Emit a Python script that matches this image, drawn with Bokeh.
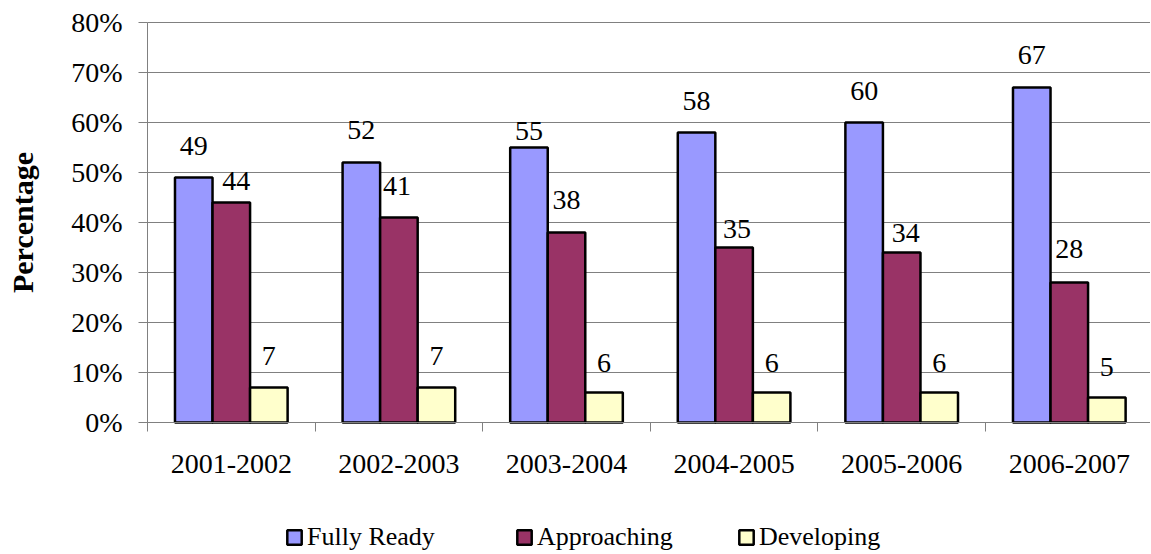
import numpy as np
from bokeh.plotting import figure
from bokeh.models import (ColumnDataSource, Range1d, FixedTicker, PrintfTickFormatter,
                          Legend, LegendItem)
from bokeh.core.properties import value
from bokeh.embed import file_html
from bokeh.resources import INLINE

# ---------------- data ----------------
categories = ["2001-2002", "2002-2003", "2003-2004", "2004-2005", "2005-2006", "2006-2007"]
series_names = ["Fully Ready", "Approaching", "Developing"]
fully_ready = [49, 52, 55, 58, 60, 67]
approaching = [44, 41, 38, 35, 34, 28]
developing = [7, 7, 6, 6, 6, 5]
y_ticks = [0, 10, 20, 30, 40, 50, 60, 70, 80]
y_title = "Percentage"

# ---------------- styling / geometry ----------------
colors = ["#9999FF", "#993366", "#FFFFCC"]
FONT = "Liberation Serif"
GRID = "#808080"
BAR_W = 0.224
FRAME_W, FRAME_H = 1150, 552
PX_PER_CAT, PX_PER_UNIT = 167.6, 5.0
LEFT_PAD, TOP_PAD = 147, 22          # room for the y axis / top margin (px)
Y_MAX = y_ticks[-1]

x_start = -LEFT_PAD / PX_PER_CAT
x_end = x_start + FRAME_W / PX_PER_CAT
y_end = Y_MAX + TOP_PAD / PX_PER_UNIT
y_start = y_end - FRAME_H / PX_PER_UNIT

# pixel lift of each value label above its bar, and small horizontal nudges
label_gap = [[32, 33, 17, 32, 32, 33],
             [22, 32, 33, 19, 20, 34],
             [32, 32, 30, 30, 30, 31]]
label_dx = [[0, 0, 0, 0, 0, 0],
            [5, -2, 0, 3, 4, 0],
            [0, 0, 0, 0, 0, 0]]

n = len(categories)
centers = np.arange(n) + 0.5
offsets = [-BAR_W, 0.0, BAR_W]

# one frame covering the whole canvas; axes are pinned inside it
p = figure(frame_width=FRAME_W, frame_height=FRAME_H, output_backend="svg",
           toolbar_location=None,
           x_range=Range1d(x_start, x_end), y_range=Range1d(y_start, y_end),
           min_border_left=0, min_border_right=0, min_border_top=0, min_border_bottom=0)
p.outline_line_color = None
p.background_fill_color = "white"
p.border_fill_color = "white"
p.xgrid.visible = False
p.ygrid.visible = False

# horizontal gridlines, only over the plotting area
p.segment(x0=0, x1=x_end, y0=y_ticks, y1=y_ticks, line_color=GRID, line_width=1)

renderers = []
for vals, name, color, off, gaps, dxs in zip([fully_ready, approaching, developing],
                                             series_names, colors, offsets, label_gap, label_dx):
    src = ColumnDataSource(dict(x=centers + off, top=vals,
                                lbl=[str(v) for v in vals],
                                yo=[-g for g in gaps], xo=dxs))
    r = p.vbar(x="x", top="top", bottom=0, width=BAR_W, source=src,
               fill_color=color, line_color="black", line_width=2.5)
    renderers.append(r)
    p.text(x="x", y="top", text="lbl", source=src, x_offset="xo", y_offset="yo",
           text_align="center", text_baseline="alphabetic",
           text_font=value(FONT), text_font_size="28px", text_color="black")

# x axis at y = 0: labels at category centres, ticks at boundaries
p.xaxis.fixed_location = 0
p.xaxis.bounds = (0, x_end)
p.xaxis.ticker = FixedTicker(ticks=list(centers), minor_ticks=list(range(n + 1)))
p.xaxis.major_label_overrides = {float(c): cat for c, cat in zip(centers, categories)}
p.xaxis.major_tick_line_color = None
p.xaxis.major_tick_out = 0
p.xaxis.major_tick_in = 0
p.xaxis.minor_tick_out = 9
p.xaxis.minor_tick_in = 0
p.xaxis.minor_tick_line_color = GRID
p.xaxis.axis_line_color = GRID
p.xaxis.major_label_standoff = 23
p.xaxis.major_label_text_font = FONT
p.xaxis.major_label_text_font_size = "28px"
p.xaxis.major_label_text_color = "black"

# y axis at x = 0
p.yaxis.fixed_location = 0
p.yaxis.bounds = (0, Y_MAX)
p.yaxis.ticker = FixedTicker(ticks=y_ticks)
p.yaxis.formatter = PrintfTickFormatter(format="%d%%")
p.yaxis.major_tick_out = 9
p.yaxis.major_tick_in = 0
p.yaxis.minor_tick_line_color = None
p.yaxis.major_tick_line_color = GRID
p.yaxis.axis_line_color = GRID
p.yaxis.major_label_standoff = 16
p.yaxis.major_label_text_font = FONT
p.yaxis.major_label_text_font_size = "28px"
p.yaxis.major_label_text_color = "black"

# y-axis title, vertical, centred on the 0-80 span
p.text(x=[x_start], y=[Y_MAX / 2], text=[y_title], x_offset=22, angle=np.pi / 2,
       text_align="center", text_baseline="middle",
       text_font=value(FONT), text_font_style="bold", text_font_size="30px",
       text_color="black")

# legend: one entry per series, laid out along the bottom
legend_x = [285, 515, 737]
for r, name, lx in zip(renderers, series_names, legend_x):
    lg = Legend(items=[LegendItem(label=name, renderers=[r])],
                location=(lx, 0), orientation="horizontal",
                glyph_width=18, glyph_height=18, label_standoff=4,
                padding=0, margin=0, spacing=0,
                border_line_color=None, background_fill_alpha=0,
                label_text_font=FONT, label_text_font_size="26px",
                label_text_color="black")
    p.add_layout(lg, "center")

open("out.html", "w").write(file_html(p, INLINE))
